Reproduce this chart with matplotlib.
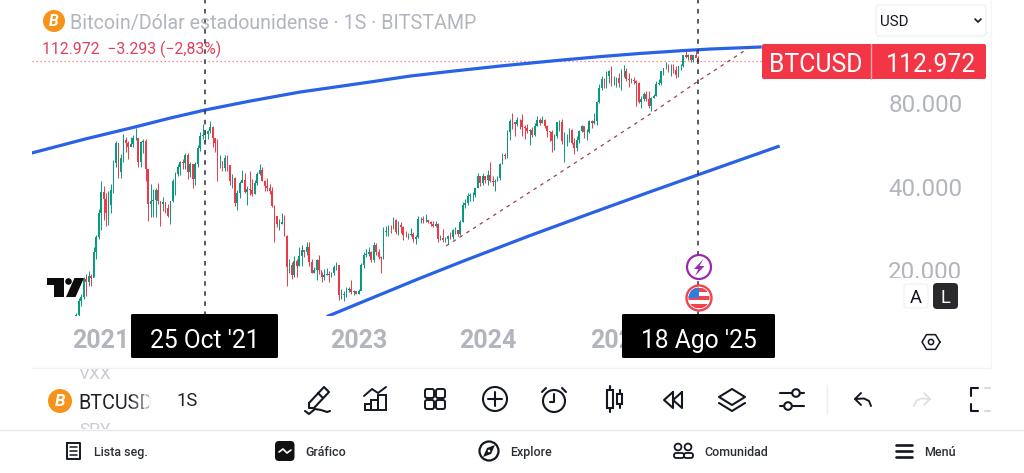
"""
Weekly BTCUSD candles on a log price scale, with the trend lines and the
surrounding trading app controls.
"""

import matplotlib
matplotlib.use("Agg")
import matplotlib.dates as mdates
import matplotlib.pyplot as plt
import numpy as np
import pandas as pd
from matplotlib.patches import Circle, FancyBboxPatch, Polygon, Rectangle

plt.rcParams['font.family'] = ['Roboto', 'DejaVu Sans']

# Weekly candles, first week starts on 26 Oct 2020
first_week = '2020-10-26'
first_open = 13030
closes = [
    13800, 15500, 16050, 18650, 18200, 19150, 18800, 23250, 26300, 32200,
    # 2021
    38200, 36000, 32200, 34300, 38900, 48600, 57400, 45200, 50900, 59000, 57400, 55800, 57050,
    59800, 60000, 49100, 57800, 58200, 46500, 34700, 35600, 35800, 39000, 35500, 34700, 35300,
    33500, 31500, 35400, 42000, 44600, 47000, 49000, 48800, 51800, 45200, 48300, 42700, 48200,
    54900, 60900, 61300, 61800, 63300, 65500, 59700, 57300, 49300, 49300, 46700, 50800, 47700,
    # 2022
    41800, 43100, 35000, 37900, 41400, 42200, 38300, 39100, 38800, 37800, 41300, 44500, 45800,
    42100, 40400, 39500, 38500, 34000, 31300, 29400, 29400, 29900, 26500, 20600, 21000, 19300,
    21600, 20800, 22600, 23600, 23200, 24300, 21500, 19600, 20000, 21800, 20100, 18900, 19300,
    19400, 19200, 19600, 20600, 20900, 16300, 16300, 16500, 17000, 17100, 16700, 16800, 16500,
    # 2023
    16900, 20900, 22700, 23000, 23300, 21800, 24600, 23200, 22300, 22100, 27500, 27700, 28500,
    28300, 30300, 27600, 29200, 28700, 26900, 26800, 26900, 27100, 25900, 26300, 30500, 30600,
    30300, 30300, 29800, 29300, 29000, 29300, 26000, 26050, 25800, 25850, 26500, 26300, 27950,
    28000, 27000, 29900, 34500, 35000, 37000, 37400, 37500, 39500, 43800, 41400, 43700, 42300,
    # 2024
    43900, 41800, 41600, 42000, 43000, 48300, 52100, 51700, 63100, 68900, 68400, 67200, 69700,
    69300, 65700, 64900, 63400, 64000, 61500, 66300, 69300, 67700, 69600, 66200, 63200, 62700,
    58200, 60800, 68200, 68250, 58200, 58700, 58900, 64200, 57300, 54900, 59100, 63600, 65900,
    62800, 62900, 69000, 67900, 68700, 80400, 90800, 97900, 97200, 100000, 104500, 95200, 95300, 98300,
    # 2025
    94500, 104500, 104700, 97700, 96500, 96550, 96200, 94200, 80700, 82600, 86100, 82400, 78000,
    83700, 85100, 93700, 94300, 104100, 106500, 107000, 105700, 105750, 105500, 100900, 108400,
    108900, 119000, 117300, 119400, 114100, 119300, 116265, 112972,
]
highs = [
    14100, 15950, 16480, 18950, 19480, 19900, 19450, 24300, 26800, 33300,
    # 2021
    41950, 40100, 37850, 38500, 40900, 49700, 58300, 57500, 52600, 61700, 60500, 58400, 60200,
    61300, 64900, 57500, 58500, 59500, 59600, 45800, 40900, 39400, 39500, 41300, 35500, 36600,
    35100, 34600, 35500, 42600, 45300, 48100, 49500, 50500, 52900, 52900, 48900, 48000, 49100,
    56600, 62900, 67000, 63700, 64200, 69000, 66300, 59500, 59200, 51900, 49500, 51800, 52100,
    # 2022
    47500, 44500, 43500, 38900, 41800, 45800, 44700, 40300, 45400, 42600, 42400, 45000, 48200,
    47200, 42400, 43000, 40800, 39900, 34300, 31400, 30600, 32300, 31700, 26800, 22000, 21500,
    22500, 21900, 24200, 24600, 23500, 25200, 25200, 21900, 20600, 21900, 22800, 19700, 20300,
    20400, 19900, 19700, 21000, 21400, 21000, 17200, 16800, 17400, 17400, 18400, 17000, 16900,
    # 2023
    17100, 21300, 23300, 23800, 24200, 23400, 25200, 25100, 23900, 22600, 28700, 28800, 29200,
    29100, 31000, 30500, 30000, 29800, 28800, 27700, 27200, 28400, 27400, 26800, 31400, 31000,
    31500, 31800, 30300, 30000, 30000, 30200, 29700, 26800, 28100, 26400, 26900, 27500, 28100,
    28600, 28000, 30300, 35200, 36000, 37900, 37900, 38400, 39700, 44700, 43500, 44700, 43800,
    # 2024
    45900, 49000, 43600, 42800, 43800, 48600, 52800, 53000, 64000, 70100, 73700, 68000, 71500,
    70300, 72800, 66800, 67000, 64700, 65400, 67700, 71900, 70700, 71900, 70200, 66900, 63400,
    63800, 62000, 68400, 69400, 70000, 62700, 61800, 65000, 64500, 59800, 60700, 64100, 66500,
    65600, 64500, 69500, 69500, 73600, 81500, 93400, 99800, 98800, 104000, 105200, 108300, 99900, 99000,
    # 2025
    102700, 106400, 109300, 106500, 102500, 98800, 99500, 96500, 95000, 84600, 87400, 88700, 88500,
    84000, 86500, 95700, 97900, 104300, 106600, 111900, 110700, 110400, 110400, 108900, 108500,
    110500, 119500, 123200, 120300, 119800, 119500, 124500, 117600,
]
lows = [
    12950, 13200, 14850, 15800, 16200, 17600, 17600, 19000, 21900, 25900,
    # 2021
    28000, 30400, 28800, 29200, 32300, 37900, 47100, 43000, 43000, 49200, 53200, 50400, 55900,
    55400, 59000, 47000, 47000, 52900, 42100, 30000, 31100, 31100, 31000, 34800, 28800, 32700,
    32100, 31000, 29300, 35200, 37300, 43700, 43950, 46300, 46500, 42800, 43400, 39600, 40700,
    46900, 53900, 59400, 58000, 59400, 62300, 55600, 53500, 42000, 46800, 45500, 45500, 45700,
    # 2022
    40500, 39700, 34000, 32900, 36300, 41700, 38000, 34300, 37400, 37100, 37600, 40500, 44200,
    41900, 38500, 38500, 37600, 33700, 25300, 28600, 28000, 29300, 26500, 17600, 19600, 18600,
    18900, 18900, 20700, 20700, 22400, 22700, 20800, 19500, 19500, 18500, 19400, 18100, 18500,
    19200, 18200, 18900, 19200, 20100, 15600, 15800, 15500, 16000, 16700, 16500, 16300, 16400,
    # 2023
    16500, 17100, 20400, 22300, 22500, 21400, 21400, 22800, 21900, 19600, 21900, 26600, 26500,
    27200, 28200, 27100, 26900, 27300, 25800, 26400, 25900, 26600, 25400, 24800, 26200, 29500,
    29700, 29900, 29500, 29000, 28600, 28700, 25200, 25700, 25400, 25400, 24900, 26000, 26000,
    27100, 26500, 26900, 29800, 33500, 34500, 35500, 35600, 36800, 39500, 40200, 40500, 41400,
    # 2024
    40700, 41500, 40300, 38500, 41800, 42300, 48300, 50500, 50900, 59000, 64500, 60800, 66400,
    64500, 60700, 59600, 62400, 56500, 60200, 60800, 66300, 66500, 67600, 65000, 60300, 58500,
    53500, 54300, 59900, 63400, 57200, 49000, 56100, 57800, 57200, 52600, 53600, 57500, 62700,
    59900, 58900, 62400, 65100, 67500, 66800, 80000, 89400, 90800, 90500, 94200, 92200, 92500, 91600,
    # 2025
    91200, 89300, 99500, 96200, 91200, 94100, 93400, 78300, 80000, 76600, 81200, 81600, 77000,
    74600, 83100, 85100, 92900, 92900, 100700, 106300, 103100, 100400, 102600, 98200, 99600,
    105100, 107500, 115700, 114700, 112000, 112700, 116800, 112500,
]

# Drawn trend lines
upper_dates = ['2020-06-23', '2020-11-20', '2021-04-10', '2021-07-18', '2021-10-25',
               '2022-03-01', '2022-07-20', '2022-10-27', '2023-02-03', '2023-05-27',
               '2023-09-17', '2024-02-06', '2024-07-16', '2024-11-15', '2025-03-07',
               '2025-06-28', '2025-09-21', '2026-02-09']
upper_prices = [52900, 59360, 65600, 70600, 75500, 81300, 87600, 91300, 95200, 100000,
                103900, 108700, 113800, 117500, 120600, 123300, 125100, 127200]
lower_dates = ['2022-10-08', '2023-02-03', '2023-06-24', '2023-10-30', '2024-04-30',
               '2024-10-17', '2025-04-04', '2025-09-21', '2026-04-01']
lower_prices = [13710, 15810, 18740, 21740, 26690, 32050, 38340, 45750, 55800]
support_dates = ['2023-09-06', '2024-06-26', '2025-04-13', '2025-08-18', '2026-01-12']
support_prices = [24490, 42620, 74200, 95950, 127200]

last_price = 112972
cross_dates = ['2021-10-25', '2025-08-18']
cross_labels = ["25 Oct '21", "18 Ago '25"]
year_ticks = ['2021-01-04', '2023-01-02', '2024-01-01', '2025-01-06']
year_labels = ['2021', '2023', '2024', '2025']
price_ticks = [20000, 40000, 80000]
price_labels = ['20.000', '40.000', '80.000']

toolbar_gray = '#b2b5be'
ink = '#131722'
red = '#f23645'
green = '#089981'
blue = '#2962e6'

W, H = 1024, 473
fig = plt.figure(figsize=(W / 100, H / 100), dpi=100, facecolor='white')


def to_num(dates):
    return mdates.date2num(pd.to_datetime(dates))


# ---- price chart ----
ax = fig.add_axes([32 / W, (H - 316) / H, (884 - 32) / W, 316 / H])
ax.set_yscale('log')
ax.set_ylim(13710, 187760)
ax.set_xlim(to_num(['2020-06-23'])[0], to_num(['2027-01-25'])[0])
for spine in ax.spines.values():
    spine.set_visible(False)

weeks = to_num(pd.date_range(first_week, periods=len(closes), freq='7D'))
closes = np.array(closes, dtype=float)
opens = np.r_[first_open, closes[:-1]]
colors = [green if c >= o else red for o, c in zip(opens, closes)]

ax.vlines(weeks, lows, highs, colors=colors, lw=0.7, zorder=2)
ax.bar(weeks, np.abs(closes - opens), bottom=np.minimum(opens, closes),
       width=4.6, color=colors, linewidth=0, zorder=3)

ax.plot(to_num(upper_dates), upper_prices, color=blue, lw=2.3, zorder=4)
ax.plot(to_num(lower_dates), lower_prices, color=blue, lw=2.3, zorder=4)
ax.plot(to_num(support_dates), support_prices, color='#9c3d52', lw=0.9,
        dashes=(2.8, 3.6), zorder=4)
ax.plot([ax.get_xlim()[0], to_num(['2026-02-20'])[0]], [last_price, last_price],
        color=red, lw=0.9, dashes=(1, 2.2), alpha=0.75, zorder=1)
for d in to_num(cross_dates):
    ax.axvline(d, color='#2a2e39', lw=1.1, dashes=(3, 3.6), zorder=5)

ax.set_xticks(to_num(year_ticks))
ax.set_xticklabels(year_labels, fontsize=18, fontweight='bold', color=toolbar_gray)
ax.tick_params(axis='x', length=0, pad=9)
ax.yaxis.tick_right()
ax.minorticks_off()
ax.set_yticks(price_ticks)
ax.set_yticklabels(price_labels, fontsize=17.4, color=toolbar_gray)
ax.tick_params(axis='y', length=0, pad=3)

# ---- everything around the chart, drawn in pixel coordinates ----
ui = fig.add_axes([0, 0, 1, 1], facecolor='none')
ui.set_xlim(0, W)
ui.set_ylim(H, 0)
ui.axis('off')


def box(x0, y0, x1, y1, fc, ec='none', r=3, lw=1, z=6):
    ui.add_patch(FancyBboxPatch((x0 + r, y0 + r), x1 - x0 - 2 * r, y1 - y0 - 2 * r,
                                boxstyle=f'round,pad={r}', fc=fc, ec=ec, lw=lw, zorder=z))


def line(xs, ys, color=ink, lw=1.5, z=8):
    ui.plot(xs, ys, color=color, lw=lw, zorder=z, solid_capstyle='round',
            solid_joinstyle='round')


def ring(x, y, r, ec=ink, fc='white', lw=1.5, z=8):
    ui.add_patch(Circle((x, y), r, fc=fc, ec=ec, lw=lw, zorder=z))


def label(x, y, s, size, color=ink, ha='left', weight='normal', z=9):
    return ui.text(x, y, s, fontsize=size, color=color, ha=ha, va='center_baseline',
                   fontweight=weight, zorder=z)


def coin(x, y, r):
    ring(x, y, r, ec='none', fc='#f7931a', lw=0)
    ui.text(x, y + 0.3, 'B', color='white', fontsize=r * 1.02, fontweight='bold',
            ha='center', va='center', style='italic', zorder=9)


# pane edges
ui.plot([32, 991], [368, 368], color='#f0f1f4', lw=1, zorder=1)
ui.plot([991, 991], [0, 368], color='#f4f5f7', lw=1, zorder=1)
ui.plot([0, W], [429.5, 429.5], color='#e9eaee', lw=1, zorder=1)

# cover the bottom of the lowest price label
ui.add_patch(Rectangle((885, 277.5), 105, 60, fc='white', ec='none', zorder=5))

# header
coin(54, 21, 11)
label(70, 21, 'Bitcoin/Dólar estadounidense · 1S · BITSTAMP', 14.15, toolbar_gray)
label(42, 47, '112.972  −3.293 (−2,83%)', 11.3, '#e0405a')

# currency selector
box(876, 5, 986, 36, 'white', ec='#f0f1f5')
label(880, 20, 'USD', 10.8)
line([975, 978, 981], [19, 22, 19], lw=1.2)

# last price tag
box(762, 44, 986, 79, red, r=2)
ui.plot([871, 871], [44, 79], color='#f7a3ab', lw=1, zorder=7)
label(816, 62, 'BTCUSD', 17.8, 'white', ha='center')
label(931, 62, '112.972', 17.8, 'white', ha='center')

# logo
ui.add_patch(Polygon([(47, 278), (63.5, 278), (63.5, 297), (54, 297), (54, 285), (47, 285)],
                     fc='#0c0c0c', ec='none', zorder=7))
ring(68.5, 281.5, 3.3, ec='none', fc='#0c0c0c', lw=0, z=7)
ui.add_patch(Polygon([(74.5, 278), (84, 278), (75.5, 297), (66, 297)], fc='#0c0c0c', ec='none', zorder=7))

# event markers on the crosshair
ring(699, 267, 12, ec='#9c27b0', lw=1.6)
ui.add_patch(Polygon([(703.5, 259), (694, 269), (698.5, 269), (695, 276), (704.5, 266), (699.5, 266)],
                     fc='#9c27b0', ec='none', zorder=9))
ring(699, 298, 12.5, ec='#f0444f', lw=1.7)
flag_clip = Circle((699, 298), 10.5, transform=ui.transData)
for y0, c in zip([288, 292, 296, 300, 304], ['#f0444f', 'white', '#f0444f', 'white', '#f0444f']):
    ui.add_patch(Rectangle((688, y0), 22, 4, fc=c, ec='none', zorder=9, clip_path=flag_clip))
ui.add_patch(Rectangle((688, 287), 11, 11, fc='#2f7de1', ec='none', zorder=9.5, clip_path=flag_clip))

# crosshair date tags
for x0, x1, text in zip([131, 622], [278, 775], cross_labels):
    box(x0, 314, x1, 358, 'black', r=1.5, z=7)
    label((x0 + x1) / 2, 338, text, 17.7, 'white', ha='center')

# scale mode buttons
box(904, 284, 928, 308, 'white', ec='#f0f1f5')
label(916, 296, 'A', 13.2, ha='center')
box(933, 283, 958, 309, '#2a2a2e', r=4)
label(945.5, 296, 'L', 13.2, 'white', ha='center')
hex_a = np.deg2rad(np.arange(0, 361, 60))
line(931 + 9 * np.cos(hex_a), 342 + 8.5 * np.sin(hex_a), lw=1.1)
ring(931, 342, 2.6, lw=1.1)

# symbol bar
coin(60, 401, 12)
label(78, 401, 'BTCUSD', 14.2, '#1f2329')
for x0, a in [(132, 0.25), (138, 0.45), (144, 0.65), (149, 0.85)]:
    ui.add_patch(Rectangle((x0, 388), 8, 26, fc='white', ec='none', alpha=a, zorder=9.5))
label(187, 399, '1S', 13.2, '#1f2329', ha='center')
vxx = label(79, 373, 'VXX', 12.4, '#c9cbd2')
vxx.set_clip_on(True)
vxx.set_clip_path(Rectangle((60, 369), 80, 20, transform=ui.transData))
spy = label(79, 429, 'SPY', 12.4, '#c9cbd2')
spy.set_clip_on(True)
spy.set_clip_path(Rectangle((60, 420), 80, 9, transform=ui.transData))

# drawing toolbar
line([309, 324, 329, 314, 309, 309], [403, 387, 392, 408, 408, 403])
line([318, 323], [393, 398])
line([305, 309, 315, 321, 327, 330], [411, 414, 409, 410, 412, 411])

ui.add_patch(Rectangle((365, 404), 6, 6, fc='none', ec=ink, lw=1.4, zorder=8))
ui.add_patch(Rectangle((371, 400), 7, 10, fc='none', ec=ink, lw=1.4, zorder=8))
ui.add_patch(Rectangle((378, 395), 8, 15, fc='none', ec=ink, lw=1.4, zorder=8))
line([364, 372, 378, 386], [396, 389, 393, 387], lw=1.4)

for gx in [425, 436]:
    for gy in [389, 400]:
        box(gx, gy, gx + 9, gy + 9, 'none', ec=ink, r=2, lw=1.4, z=8)

ring(495, 399, 12)
line([488, 502], [399, 399])
line([495, 495], [392, 406])

ring(554, 401, 11)
line([554, 554, 550], [394, 402, 402])
line([542, 546], [392, 388])
line([566, 562], [392, 388])

ui.add_patch(Rectangle((606.5, 390), 6, 18, fc='none', ec=ink, lw=1.5, zorder=8))
line([609.5, 609.5], [386, 390])
line([609.5, 609.5], [408, 412])
ui.add_patch(Rectangle((617, 394), 5, 10, fc='none', ec=ink, lw=1.5, zorder=8))
line([619.5, 619.5], [390, 394])
line([619.5, 619.5], [404, 408])

line([673, 664, 673, 673], [392, 400, 408, 392])
line([682, 673, 682, 682], [392, 400, 408, 392])

ui.add_patch(Polygon([(732, 389), (745, 397), (732, 405), (719, 397)], fc='none', ec=ink,
                     lw=1.5, zorder=8, joinstyle='round'))
line([719, 732, 745], [403, 411, 403])

line([780, 804], [393, 393])
line([780, 804], [406, 406])
ring(796, 393, 3.8)
ring(788, 406, 3.8)

ui.plot([827, 827], [385, 413], color='#eceef1', lw=1, zorder=8)

line([861, 855, 861], [393, 399, 405], lw=1.4)
line([855, 864, 869, 871], [399, 398.5, 401, 406], lw=1.4)
line([924, 930, 924], [393, 399, 405], '#dfe1e6', lw=1.4)
line([930, 921, 916, 914], [399, 398.5, 401, 406], '#dfe1e6', lw=1.4)

line([978, 971, 971], [388, 388, 396])
line([971, 971, 978], [404, 411, 411])
line([985, 990], [388, 388], '#d8dade')
line([985, 990], [411, 411], '#d8dade')

# bottom navigation
nav_size = 9.0
line([67, 67, 80, 80, 67], [443, 459, 459, 443, 443], lw=1.4)
for ly in [447, 451, 455]:
    line([70, 77], [ly, ly], lw=1.1)
label(94, 451, 'Lista seg.', nav_size, '#2b2f36', weight='medium')

box(275, 441, 294.5, 461, '#111111', r=4)
line([279, 283, 287, 291], [452, 449, 453, 450], 'white', lw=1.2, z=9)
label(305, 451, 'Gráfico', nav_size, '#2b2f36', weight='medium')

ring(489, 451, 9.5, lw=1.6)
ui.add_patch(Polygon([(495, 445), (491, 454), (483, 457), (487, 448)], fc=ink, ec='none', zorder=9))
ring(489, 451, 1.3, ec='none', fc='white', lw=0, z=9.5)
label(510, 451, 'Explore', nav_size, '#2b2f36', weight='medium')

ring(678, 447, 3.4, lw=1.3)
ring(688, 447, 3.4, lw=1.3)
box(674, 453, 684, 458, 'none', ec=ink, r=2.2, lw=1.3, z=8)
box(684, 453, 693, 458, 'none', ec=ink, r=2.2, lw=1.3, z=8)
label(704, 451, 'Comunidad', nav_size, '#2b2f36', weight='medium')

for ly in [445, 451, 457]:
    line([896, 912], [ly, ly], lw=1.9)
label(924, 451, 'Menú', nav_size, '#2b2f36', weight='medium')

fig.savefig('out.png', dpi=100, facecolor='white')
